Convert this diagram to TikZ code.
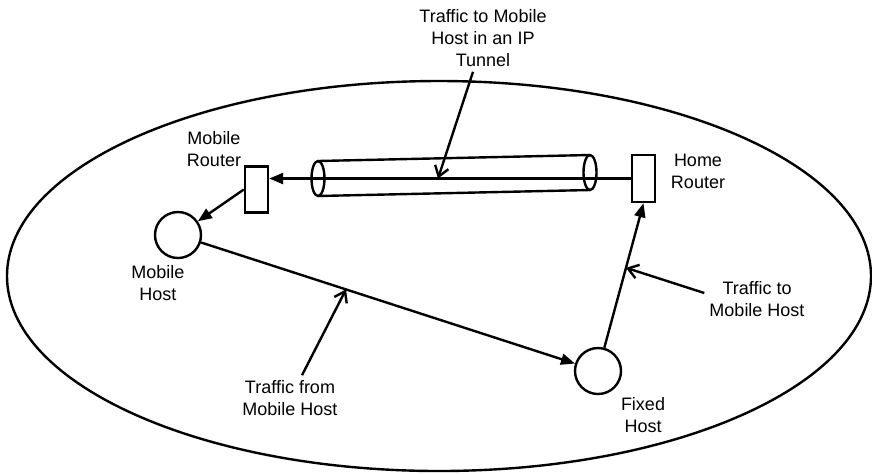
\documentclass[tikz,border=0pt]{standalone}
\usepackage{fontspec}
\setmainfont{Liberation Sans}
\usetikzlibrary{arrows.meta, positioning, calc}

\begin{document}
\begin{tikzpicture}[x=0.5pt, y=-0.5pt, line width=1.2pt,
    router/.style={draw, rectangle, minimum width=11.5pt, minimum height=23pt, inner sep=0pt},
    host/.style={draw, circle, minimum size=23pt, inner sep=0pt},
    lbl/.style={align=center, font=\fontsize{9}{11}\selectfont, inner sep=2pt},
    flow/.style={-{Triangle[length=7pt, width=5.5pt]}},
    callout/.style={-{Straight Barb[length=5pt, width=7pt]}}]
  \useasboundingbox (0,0) rectangle (872,473);
  % network boundary
  \draw (439,276) ellipse [x radius=216pt, y radius=97.5pt];

  % IP tunnel
  \coordinate (tunL) at (318,178.5);
  \coordinate (tunR) at (590,172.5);
  \draw (318,161) -- (590,155) (318,196) -- (590,190);
  \draw (tunL) ellipse [x radius=3.25pt, y radius=8.75pt];
  \draw (tunR) ellipse [x radius=3.25pt, y radius=8.75pt];

  % routers and hosts
  \node[router] (mrouter) at (256.5,189.5) {};
  \node[router, minimum height=23.5pt] (home) at (643.5,178.5) {};
  \node[host] (mhost) at (178,235) {};
  \node[host] (fhost) at (598,371) {};

  % labels
  \node[lbl] (mrlab) at (214,149) {Mobile\\Router};
  \node[lbl] (hrlab) at (698,171) {Home\\Router};
  \node[lbl] (mhlab) at (158,283) {Mobile\\Host};
  \node[lbl] (fhlab) at (643,415) {Fixed\\Host};
  \node[lbl] (tunlab) at (483,38) {Traffic to Mobile\\Host in an IP\\Tunnel};
  \node[lbl] (tolab) at (757,299) {Traffic to\\Mobile Host};
  \node[lbl] (fromlab) at (290,398) {Traffic from\\Mobile Host};

  % traffic
  \draw[flow] (home.west) -- (home.west -| mrouter.east);
  \draw[flow] (mrouter.west) -- (mhost);
  \draw[flow] (mhost) -- (fhost);
  \draw[flow] (fhost) -- (home.south);

  % callouts
  \coordinate (tunmid) at (438,178.5);
  \coordinate (tocall) at ($(fhost)!0.615!(home.south)$);
  \coordinate (fromcall) at ($(mhost)!0.4!(fhost)$);
  \draw[callout] ([xshift=-5pt]tunlab.south) -- (tunmid);
  \draw[callout] ([yshift=3pt]tolab.west) -- (tocall);
  \draw[callout] ([xshift=6pt]fromlab.north) -- (fromcall);
\end{tikzpicture}
\end{document}
